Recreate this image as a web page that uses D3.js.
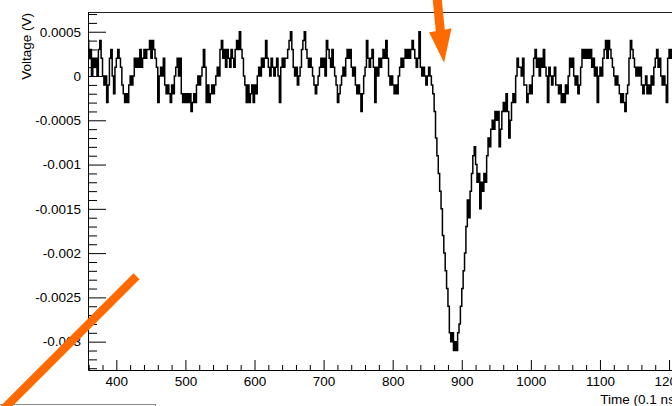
<!DOCTYPE html>
<html>
<head>
<meta charset="utf-8">
<script src="https://cdn.jsdelivr.net/npm/d3@7"></script>
<style>
  html, body { margin: 0; padding: 0; background: #fff; overflow: hidden; }
  svg { display: block; font-family: "Liberation Sans", Arial, Helvetica, sans-serif; }
</style>
</head>
<body>
<svg id="chart" width="672" height="406"></svg>
<script>
// ---- waveform: one sample every 2 time units (0.1 ns), starting at t = 359 ----
const sampleStart = 359;
const sampleStep = 2;
const voltage = [
  // 359 - 529
  0.0004, 0.0002, 0.0003, 0, 0.0002, 0.0001, 0.0002, 0, 0.0003, 0.0004,
  0.0002, 0, -0.0001, 0, -0.0003, -0.0001, 0.0002, 0.0003, 0, -0.0002,
  0.0001, 0.0002, 0.0003, 0.0002, 0.0001, -0.0001, -0.0002, -0.0003, -0.0002, -0.0003,
  -0.0001, 0, -0.0001, 0, 0.0002, 0.0001, 0.0002, 0.0001, 0.0003, 0.0001,
  0.0002, 0.0003, 0.0002, 0.0003, 0.0003, 0.0004, 0.0002, 0.0004, 0.0003, 0.0002,
  0.0001, -0.0003, 0, 0.0001, 0, 0.0002, -0.0001, -0.0002, -0.0001, -0.0002,
  -0.0003, -0.0001, -0.0002, 0, 0.0001, 0.0002, 0, 0.0002, -0.0002, -0.0003,
  -0.0002, -0.0003, -0.0002, -0.0003, -0.0002, -0.0004, -0.0003, -0.0002, -0.0003, -0.0001,
  0, -0.0001, 0, 0.0001, 0.0003, 0.0001,
  // 531 - 701
  -0.0003, -0.0001, -0.0003, -0.0002, -0.0001, -0.0002, -0.0001, 0, 0.0001, 0,
  0.0003, 0.0004, 0.0002, 0.0003, 0.0001, 0.0003, 0.0002, 0.0001, 0.0003, 0.0002,
  0.0001, 0.0003, 0.0004, 0.0003, 0.0005, 0.0003, 0.0002, 0, -0.0001, -0.0003,
  -0.0001, -0.0003, -0.0002, -0.0001, -0.0003, -0.0001, -0.0002, 0, 0.0001, 0,
  0.0002, 0.0001, 0.0002, 0.0004, 0.0002, 0.0001, 0, 0.0002, 0.0001, 0,
  0.0001, 0.0002, 0, -0.0003, 0.0001, 0.0002, 0.0001, 0.0002, 0.0002, 0.0003,
  0.0004, 0.0005, 0.0003, 0.0001, 0, 0.0001, -0.0001, 0, 0.0001, 0.0003,
  0.0004, 0.0005, 0.0003, 0.0002, 0.0001, 0.0002, 0.0001, 0, -0.0001, -0.0002,
  -0.0001, 0, 0.0001, 0.0002, 0.0001, 0.0002,
  // 703 - 857
  0, 0.0004, 0.0003, 0.0002, 0.0001, 0.0003, 0.0001, 0, -0.0001, -0.0003,
  -0.0002, -0.0001, 0, 0.0001, 0, 0.0002, 0.0003, 0.0002, 0.0003, 0.0001,
  0, 0.0001, -0.0001, -0.0002, -0.0001, -0.0002, -0.0004, -0.0002, 0, 0.0001,
  0.0004, 0.0002, 0.0001, 0.0002, 0.0003, 0.0001, -0.0003, 0.0001, 0, 0.0002,
  0.0001, 0.0002, 0.0003, 0.0002, 0.0004, 0.0002, 0, -0.0001, 0, -0.0001,
  -0.0002, -0.0001, -0.0002, 0, 0.0001, 0.0002, 0.0001, 0.0002, 0.0003, 0.0002,
  0.0003, 0.0002, 0.0003, 0.0004, 0.0003, 0.0002, 0.0001, 0.0002, 0.0005, 0.0001,
  0, 0.0001, 0, -0.0001, 0, 0.0001, 0, -0.0001,
  // 859 - 895: leading edge and minimum of the pulse
  -0.0002, -0.0004, -0.0007, -0.0009, -0.0011, -0.0013, -0.0015, -0.0018, -0.0020, -0.0022,
  -0.0024, -0.0026, -0.0029, -0.0030, -0.0029, -0.0031, -0.0030, -0.0031, -0.0029,
  // 897 - 983: recovery
  -0.0028, -0.0026, -0.0024, -0.0022, -0.0020, -0.0017, -0.0014, -0.0016, -0.0013, -0.0011,
  -0.0009, -0.0008, -0.0010, -0.0012, -0.0011, -0.0015, -0.0012, -0.0013, -0.0011, -0.0012,
  -0.0009, -0.0007, -0.0008, -0.0006, -0.0005, -0.0006, -0.0004, -0.0005, -0.0004, -0.0008,
  -0.0006, -0.0004, -0.0003, -0.0004, -0.0002, -0.0004, -0.0007, -0.0005, -0.0003, -0.0002,
  -0.0003, 0, 0.0002, 0.0001,
  // 985 - 1215
  0.0001, 0, 0.0002, -0.0001, -0.0001, -0.0003, -0.0002, -0.0001, -0.0002, 0,
  0.0002, 0.0003, 0.0001, 0.0002, 0, 0.0002, 0.0001, 0.0003, 0.0001, 0,
  -0.0003, 0.0001, 0, -0.0001, 0, 0.0001, -0.0001, -0.0001, -0.0002, -0.0001,
  -0.0003, -0.0002, -0.0003, -0.0001, -0.0002, 0, 0.0002, 0.0001, 0.0002, 0,
  -0.0001, 0, -0.0002, -0.0001, 0.0001, 0.0003, 0.0002, 0.0003, 0.0002, 0.0003,
  0.0002, 0.0003, 0.0001, 0.0002, 0, 0.0001, -0.0003, 0, 0.0001, 0,
  0.0002, 0.0003, 0.0004, 0.0002, 0.0004, 0.0003, 0.0002, 0.0001, 0, -0.0001,
  0, -0.0001, -0.0002, -0.0003, -0.0002, -0.0003, -0.0004, -0.0002, -0.0001, 0.0002,
  0.0004, 0.0003, 0.0002, 0.0001, 0, 0.0001, 0, 0.0001, -0.0001, -0.0002,
  -0.0001, 0, -0.0002, -0.0001, -0.0002, 0, -0.0001, 0.0001, 0.0002, 0.0003,
  0.0001, 0.0002, 0, -0.0001, 0, -0.0001, -0.0003, 0.0002, 0.0003, 0.0002,
  0.0003, 0.0002, 0.0001, 0.0002, 0.0001, 0.0002
];

// ---- axes ----
const xDomain = [359, 1215];
const yDomain = [-0.00332, 0.000723];
const xTickValues = [400, 500, 600, 700, 800, 900, 1000, 1100, 1200];
const xTickLabels = ["400", "500", "600", "700", "800", "900", "1000", "1100", "1200"];
const yTickValues = [0.0005, 0, -0.0005, -0.001, -0.0015, -0.002, -0.0025, -0.003];
const yTickLabels = ["0.0005", "0", "-0.0005", "-0.001", "-0.0015", "-0.002", "-0.0025", "-0.003"];
const xMinorStep = 20;
const yMinorStep = 0.0001;
const xTitle = "Time (0.1 ns)";
const yTitle = "Voltage (V)";

// ---- annotations, anchored in data units ----
const arrowTip = { t: 874.4, v: 0.00015 };
const slashTop = { t: 429.2, v: -0.00226 };

const W = 672, H = 406;
const plot = { left: 88, right: 679.4, top: 12, bottom: 370 };
const ORANGE = "#ff6a00";
const FONT = 13.5;

const svg = d3.select("#chart");
const x = d3.scaleLinear().domain(xDomain).range([plot.left, plot.right]);
const y = d3.scaleLinear().domain(yDomain).range([plot.bottom, plot.top]);

// frame top edge
svg.append("line")
  .attr("x1", plot.left).attr("x2", W + 20)
  .attr("y1", plot.top + 0.5).attr("y2", plot.top + 0.5)
  .attr("stroke", "#222").attr("stroke-width", 1);

// waveform
svg.append("clipPath").attr("id", "plotClip")
  .append("rect")
  .attr("x", plot.left).attr("y", plot.top)
  .attr("width", plot.right - plot.left).attr("height", plot.bottom - plot.top);

const line = d3.line()
  .x((d, i) => x(sampleStart + i * sampleStep))
  .y(d => y(d))
  .curve(d3.curveStep);

svg.append("path")
  .datum(voltage)
  .attr("clip-path", "url(#plotClip)")
  .attr("d", line)
  .attr("fill", "none")
  .attr("stroke", "#000")
  .attr("stroke-width", 1.5)
  .attr("stroke-linejoin", "miter");

// minor ticks
const xMinor = d3.range(Math.ceil(xDomain[0] / xMinorStep) * xMinorStep, xDomain[1], xMinorStep)
  .filter(v => !xTickValues.includes(v));
const yMinor = d3.range(Math.ceil(yDomain[0] / yMinorStep), Math.floor(yDomain[1] / yMinorStep) + 1)
  .map(k => k * yMinorStep)
  .filter(v => !yTickValues.some(t => Math.abs(t - v) < 1e-9));

svg.append("g")
  .attr("transform", `translate(0,${plot.bottom})`)
  .call(d3.axisBottom(x).tickValues(xMinor).tickFormat("").tickSizeInner(-5).tickSizeOuter(0))
  .call(g => g.select(".domain").remove());

svg.append("g")
  .attr("transform", `translate(${plot.left},0)`)
  .call(d3.axisLeft(y).tickValues(yMinor).tickFormat("").tickSizeInner(-9).tickSizeOuter(0))
  .call(g => g.select(".domain").remove());

// major ticks + labels
svg.append("g")
  .attr("transform", `translate(0,${plot.bottom})`)
  .call(d3.axisBottom(x)
    .tickValues(xTickValues)
    .tickFormat((d, i) => xTickLabels[i])
    .tickSizeInner(-10).tickSizeOuter(0).tickPadding(6));

svg.append("g")
  .attr("transform", `translate(${plot.left},0)`)
  .call(d3.axisLeft(y)
    .tickValues(yTickValues)
    .tickFormat((d, i) => yTickLabels[i])
    .tickSizeInner(-18).tickSizeOuter(0).tickPadding(7));

svg.selectAll(".tick line").attr("stroke", "#000");
svg.selectAll(".domain").attr("stroke", "#000");
svg.selectAll(".tick text")
  .attr("font-family", "'Liberation Sans', Arial, sans-serif")
  .attr("font-size", FONT).attr("fill", "#000");

// titles
svg.append("text")
  .attr("transform", `translate(31,${plot.top + 1}) rotate(-90)`)
  .attr("text-anchor", "end")
  .attr("font-size", FONT)
  .text(yTitle);

svg.append("text")
  .attr("x", plot.right).attr("y", 403.5)
  .attr("text-anchor", "end")
  .attr("font-size", FONT)
  .text(xTitle);

// box outline at the lower-left edge
svg.append("rect")
  .attr("x", -4).attr("y", 404.5)
  .attr("width", 159.5).attr("height", 20)
  .attr("fill", "none").attr("stroke", "#8a8a8a").attr("stroke-width", 1);

// orange arrow pointing at the pulse onset
{
  const tx = x(arrowTip.t), ty = y(arrowTip.v);
  const pts = [
    [0, 0], [-15, -30.4], [-8.3, -31.6], [-12.3, -72.6], [-3.3, -73.6], [0.7, -33], [7.4, -34.4]
  ].map(([dx, dy]) => [tx + dx, ty + dy]);
  svg.append("path")
    .attr("d", "M" + pts.map(p => p.join(",")).join("L") + "Z")
    .attr("fill", ORANGE);
}

// orange diagonal stroke
{
  const sx = x(slashTop.t), sy = y(slashTop.v);
  svg.append("line")
    .attr("x1", sx).attr("y1", sy)
    .attr("x2", sx - 160).attr("y2", sy + 160)
    .attr("stroke", ORANGE).attr("stroke-width", 8.5)
    .attr("stroke-linecap", "butt");
}
</script>
</body>
</html>
